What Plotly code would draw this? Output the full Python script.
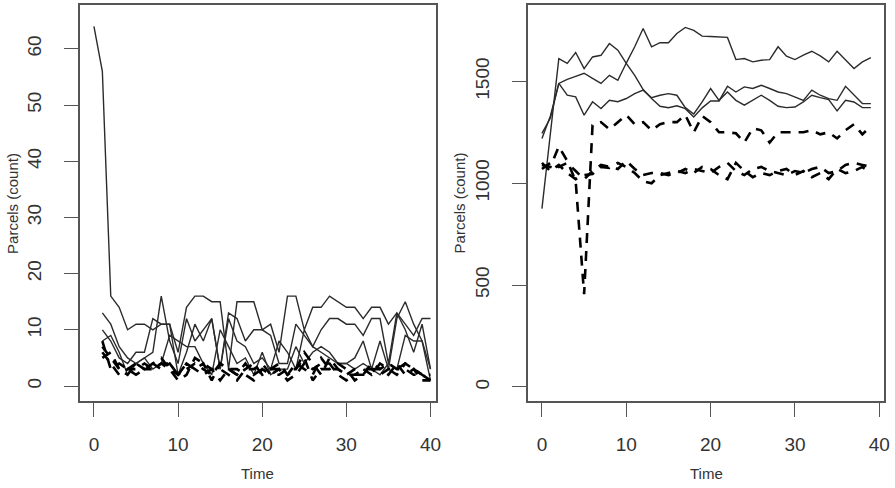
import plotly.graph_objects as go

# ---------------- data ----------------
t_left = list(range(41))
t_right = list(range(40))

# left panel: solid series
L_S1 = [64, 56, 16, 14, 10, 11, 11, 10, 11, 11, 6, 14, 16, 16, 15, 15, 3, 15, 15, 15, 10, 11, 6, 16, 16, 10, 14, 14, 16, 15, 14, 14, 12, 14, 14, 11, 13, 11, 9, 12, 12]
L_S2 = [None, 13, 11, 7, 5, 4, 5, 6, 16, 8, 4, 12, 8, 10, 12, 3, 13, 12, 8, 10, 10, 9, 4, 4, 11, 9, 7, 10, 12, 12, 11, 11, 9, 12, 12, 4, 13, 10, 6, 11, 3]
L_S3 = [None, 10, 8, 5, 4, 6, 6, 12, 11, 11, 2, 6, 11, 8, 12, 3, 12, 8, 7, 4, 5, 3, 8, 6, 3, 10, 7, 6, 5, 4, 4, 5, 8, 3, 8, 3, 12, 15, 11, 8, 1]
L_S4 = [None, 8, 9, 6, 2, 4, 5, 3, 4, 9, 8, 7, 7, 4, 2, 10, 7, 4, 5, 2, 6, 2, 3, 3, 7, 4, 6, 7, 6, 4, 4, 3, 4, 3, 2, 4, 3, 9, 8, 8, 3]
# left panel: dashed series
L_D1 = [None, 7, 5, 3, 3, 4, 3, 3, 4, 4, 2, 3, 4, 3, 2, 4, 3, 2, 3, 4, 2, 3, 3, 2, 4, 3, 2, 5, 3, 3, 2, 2, 3, 3, 2, 3, 3, 4, 3, 2, 2]
L_D2 = [None, 6, 4, 2, 3, 3, 4, 3, 4, 3, 1, 2, 5, 4, 3, 1, 3, 3, 2, 1, 3, 2, 3, 1, 2, 4, 3, 4, 4, 2, 1, 2, 2, 3, 3, 2, 4, 2, 3, 1, 1]
L_D3 = [None, 5, 6, 3, 2, 4, 3, 4, 3, 4, 2, 4, 3, 2, 3, 3, 2, 1, 3, 3, 4, 2, 2, 3, 3, 5, 1, 3, 3, 4, 3, 1, 2, 4, 3, 4, 3, 3, 2, 2, 1]
L_D4 = [None, 8, 3, 4, 3, 2, 3, 4, 5, 3, 2, 4, 3, 4, 1, 4, 3, 2, 4, 2, 3, 3, 4, 2, 3, 6, 4, 2, 5, 3, 2, 3, 3, 2, 4, 3, 2, 4, 3, 2, 1]

# right panel: solid series
R_S1 = [875, 1250, 1612, 1588, 1642, 1563, 1620, 1628, 1686, 1653, 1588, 1530, 1460, 1416, 1378, 1371, 1380, 1366, 1325, 1370, 1404, 1404, 1476, 1448, 1473, 1465, 1481, 1465, 1448, 1440, 1424, 1407, 1457, 1432, 1415, 1407, 1476, 1432, 1391, 1391]
R_S2 = [1220, 1330, 1490, 1510, 1525, 1540, 1515, 1490, 1530, 1505, 1590, 1670, 1760, 1670, 1690, 1690, 1735, 1765, 1750, 1722, 1720, 1718, 1716, 1607, 1612, 1596, 1604, 1607, 1670, 1624, 1607, 1629, 1648, 1625, 1596, 1648, 1604, 1563, 1596, 1617]
R_S3 = [1245, 1320, 1490, 1432, 1424, 1334, 1400, 1367, 1407, 1400, 1416, 1440, 1457, 1420, 1432, 1440, 1432, 1371, 1340, 1399, 1465, 1407, 1448, 1407, 1383, 1407, 1432, 1407, 1378, 1371, 1374, 1399, 1432, 1420, 1411, 1355, 1407, 1399, 1371, 1371]
# right panel: dashed series
R_D1 = [1090, 1080, 1180, 1110, 1010, 455, 1285, 1300, 1265, 1300, 1335, 1290, 1300, 1260, 1290, 1300, 1300, 1335, 1250, 1330, 1300, 1250, 1250, 1245, 1200, 1270, 1260, 1200, 1250, 1250, 1250, 1250, 1260, 1240, 1250, 1220, 1260, 1290, 1240, 1280]
R_D2 = [1100, 1060, 1090, 1050, 1020, 1040, 1045, 1080, 1075, 1100, 1080, 1050, 1010, 1000, 1040, 1050, 1060, 1050, 1070, 1060, 1050, 1080, 1100, 1060, 1040, 1070, 1080, 1060, 1050, 1040, 1060, 1050, 1070, 1080, 1050, 1060, 1090, 1100, 1090, 1080]
R_D3 = [1070, 1100, 1080, 1100, 1060, 1020, 1060, 1090, 1080, 1070, 1110, 1070, 1040, 1050, 1050, 1040, 1050, 1070, 1050, 1080, 1070, 1040, 1020, 1100, 1060, 1030, 1050, 1040, 1060, 1070, 1040, 1060, 1030, 1050, 1020, 1070, 1050, 1060, 1080, 1050]

x_ticks = [0, 10, 20, 30, 40]
left_y_ticks = [0, 10, 20, 30, 40, 50, 60]
right_y_ticks = [0, 500, 1000, 1500]

# ---------------- styling ----------------
W, H = 895, 488
FONT = "Liberation Sans, Arial, sans-serif"
solid = dict(color="#2b2b2b", width=1.4)
dashed = dict(color="#000000", width=2.6, dash="10px,8px")

fig = go.Figure()

for ys in [L_S1, L_S2, L_S3, L_S4]:
    fig.add_trace(go.Scatter(x=t_left, y=ys, mode="lines", line=solid, xaxis="x", yaxis="y",
                             showlegend=False, hoverinfo="skip"))
for ys in [L_D1, L_D2, L_D3, L_D4]:
    fig.add_trace(go.Scatter(x=t_left, y=ys, mode="lines", line=dashed, xaxis="x", yaxis="y",
                             showlegend=False, hoverinfo="skip"))
for ys in [R_S1, R_S2, R_S3]:
    fig.add_trace(go.Scatter(x=t_right, y=ys, mode="lines", line=solid, xaxis="x2", yaxis="y2",
                             showlegend=False, hoverinfo="skip"))
for ys in [R_D1, R_D2, R_D3]:
    fig.add_trace(go.Scatter(x=t_right, y=ys, mode="lines", line=dashed, xaxis="x2", yaxis="y2",
                             showlegend=False, hoverinfo="skip"))

axis_common = dict(showline=True, mirror=True, linecolor="#555555", linewidth=1.5,
                   ticks="outside", ticklen=14, tickwidth=1.2, tickcolor="#555555",
                   showgrid=False, zeroline=False,
                   tickfont=dict(family=FONT, size=19, color="#333333"))

# pixel boxes
L_box = (80.5, 438.0)
R_box = (531.0, 889.3)
top_px, bot_px = 5.0, 401.0

fig.update_layout(
    width=W, height=H,
    margin=dict(l=0, r=0, t=0, b=0),
    paper_bgcolor="white", plot_bgcolor="white",
    xaxis=dict(domain=[L_box[0] / W, L_box[1] / W], range=[-1.65, 40.6],
               tickvals=x_ticks, ticklabelstandoff=11, anchor="y", **axis_common),
    yaxis=dict(domain=[1 - bot_px / H, 1 - top_px / H], range=[-2.67, 67.8],
               tickvals=left_y_ticks, tickangle=-90, ticklabelstandoff=16, anchor="x",
               **axis_common),
    xaxis2=dict(domain=[R_box[0] / W, R_box[1] / W], range=[-1.65, 40.6],
                tickvals=x_ticks, ticklabelstandoff=11, anchor="y2", **axis_common),
    yaxis2=dict(domain=[1 - bot_px / H, 1 - top_px / H], range=[-69, 1875],
                tickvals=right_y_ticks, tickangle=-90, ticklabelstandoff=16, anchor="x2",
                **axis_common),
)

title_font = dict(family=FONT, size=15, color="#333333")
annots = [
    dict(text="Time", x=(L_box[0] + L_box[1]) / 2 / W, y=1 - 473 / H),
    dict(text="Time", x=(R_box[0] + R_box[1]) / 2 / W, y=1 - 473 / H),
    dict(text="Parcels (count)", x=13 / W, y=1 - 203 / H, textangle=-90),
    dict(text="Parcels (count)", x=463 / W, y=1 - 203 / H, textangle=-90),
]
for a in annots:
    fig.add_annotation(xref="paper", yref="paper", xanchor="center", yanchor="middle",
                       showarrow=False, font=title_font, **a)

fig.write_html("out.html")
